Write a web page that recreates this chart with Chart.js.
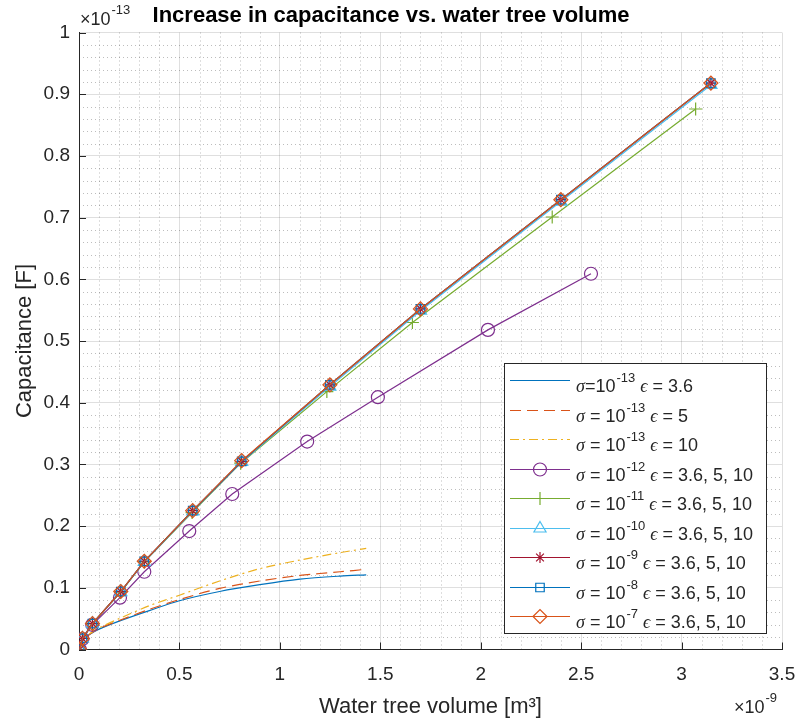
<!DOCTYPE html>
<html>
<head>
<meta charset="utf-8">
<script src="https://cdn.jsdelivr.net/npm/chart.js@4.4.0/dist/chart.umd.min.js"></script>
<style>
  html, body { margin: 0; padding: 0; background: #fff; }
  #wrap { width: 800px; height: 724px; }
</style>
</head>
<body>
<div id="wrap"><canvas id="capChart" width="800" height="724"></canvas></div>
<script>
// volume in units of 1e-9 m^3, capacitance in units of 1e-13 F

// sigma = 1e-13, three permittivities (no markers)
const volLow    = [0, 0.02, 0.05, 0.1, 0.2, 0.35, 0.5, 0.7, 0.9, 1.1, 1.3, 1.43];
const capS13e36 = [0, 0.015, 0.024, 0.033, 0.046, 0.063, 0.079, 0.094, 0.105, 0.114, 0.119, 0.121];
const capS13e5  = [0, 0.015, 0.024, 0.034, 0.047, 0.065, 0.081, 0.099, 0.111, 0.120, 0.126, 0.130];
const capS13e10 = [0, 0.016, 0.025, 0.035, 0.050, 0.071, 0.088, 0.111, 0.131, 0.145, 0.157, 0.164];

// sigma = 1e-12
const volS12 = [0.004, 0.017, 0.066, 0.204, 0.325, 0.549, 0.763, 1.136, 1.488, 2.036, 2.549];
const capS12 = [0, 0.017, 0.040, 0.084, 0.126, 0.192, 0.252, 0.337, 0.409, 0.518, 0.609];

// sigma = 1e-11
const volS11 = [0.004, 0.017, 0.067, 0.207, 0.325, 0.563, 0.805, 1.234, 1.66, 2.356, 3.07];
const capS11 = [0, 0.018, 0.042, 0.093, 0.142, 0.222, 0.302, 0.418, 0.530, 0.701, 0.876];

// sigma = 1e-10 ... 1e-7
const volHigh = [0.004, 0.017, 0.067, 0.208, 0.325, 0.566, 0.81, 1.249, 1.70, 2.399, 3.146];
const capS10 = [0, 0.018, 0.042, 0.093, 0.142, 0.224, 0.304, 0.426, 0.549, 0.726, 0.915];
const capS9  = [0, 0.018, 0.042, 0.094, 0.143, 0.225, 0.305, 0.429, 0.552, 0.729, 0.918];
const capS8  = [0, 0.018, 0.042, 0.094, 0.143, 0.225, 0.305, 0.429, 0.552, 0.729, 0.918];
const capS7  = [0, 0.018, 0.042, 0.094, 0.143, 0.225, 0.306, 0.429, 0.552, 0.729, 0.918];

const xTickLabels = ['0', '0.5', '1', '1.5', '2', '2.5', '3', '3.5'];
const yTickLabels = ['0', '0.1', '0.2', '0.3', '0.4', '0.5', '0.6', '0.7', '0.8', '0.9', '1'];

const sigmaExp = ['-13', '-13', '-13', '-12', '-11', '-10', '-9', '-8', '-7'];
const epsText  = ['3.6', '5', '10', '3.6, 5, 10', '3.6, 5, 10', '3.6, 5, 10', '3.6, 5, 10', '3.6, 5, 10', '3.6, 5, 10'];

const FONT = '"Liberation Sans", Arial, sans-serif';
const INK = '#262626';

function pts(xs, ys) {
  return xs.map((x, i) => ({ x: x, y: ys[i] }));
}

const series = [
  { data: pts(volLow, capS13e36), color: '#0072BD', dash: [], marker: false },
  { data: pts(volLow, capS13e5), color: '#D95319', dash: [11, 6], marker: false },
  { data: pts(volLow, capS13e10), color: '#EDB120', dash: [9, 4, 2, 4], marker: false },
  { data: pts(volS12, capS12), color: '#7E2F8E', dash: [], marker: 'circle', r: 6.5 },
  { data: pts(volS11, capS11), color: '#77AC30', dash: [], marker: 'cross', r: 6.5 },
  { data: pts(volHigh, capS10), color: '#4DBEEE', dash: [], marker: 'triangle', r: 7 },
  { data: pts(volHigh, capS9), color: '#A2142F', dash: [], marker: 'star', r: 5.5 },
  { data: pts(volHigh, capS8), color: '#0072BD', dash: [], marker: 'rect', r: 6 },
  { data: pts(volHigh, capS7), color: '#D95319', dash: [], marker: 'rectRot', r: 7 }
];

const datasets = series.map((s, i) => ({
  label: 'σ = 10^' + sigmaExp[i] + ' ϵ = ' + epsText[i],
  data: s.data,
  borderColor: s.color,
  backgroundColor: 'rgba(0,0,0,0)',
  borderWidth: 1.2,
  borderDash: s.dash,
  tension: s.marker ? 0 : 0.3,
  pointStyle: s.marker || 'circle',
  pointRadius: s.marker ? s.r : 0,
  pointBorderWidth: 1.2,
  pointBorderColor: s.color,
  pointBackgroundColor: 'rgba(0,0,0,0)',
  order: series.length - 1 - i
}));

// dotted minor grid, inward ticks, exponent labels
const axesDecor = {
  id: 'axesDecor',
  beforeDatasetsDraw(chart) {
    const { ctx, chartArea: a, scales: { x, y } } = chart;
    ctx.save();
    ctx.strokeStyle = 'rgba(38,38,38,0.3)';
    ctx.lineWidth = 1;
    ctx.setLineDash([1, 3]);
    for (let k = 1; k < 35; k++) {
      if (k % 5 === 0) continue;
      const px = Math.round(x.getPixelForValue(k / 10)) + 0.5;
      ctx.beginPath(); ctx.moveTo(px, a.top); ctx.lineTo(px, a.bottom); ctx.stroke();
    }
    for (let k = 1; k < 50; k++) {
      if (k % 5 === 0) continue;
      const py = Math.round(y.getPixelForValue(k / 50)) + 0.5;
      ctx.beginPath(); ctx.moveTo(a.left, py); ctx.lineTo(a.right, py); ctx.stroke();
    }
    ctx.setLineDash([]);
    ctx.strokeStyle = INK;
    xTickLabels.forEach((t, i) => {
      const px = Math.round(x.getPixelForValue(i * 0.5)) + 0.5;
      ctx.beginPath(); ctx.moveTo(px, a.bottom); ctx.lineTo(px, a.bottom - 7); ctx.stroke();
    });
    yTickLabels.forEach((t, i) => {
      const py = Math.round(y.getPixelForValue(i * 0.1)) + 0.5;
      ctx.beginPath(); ctx.moveTo(a.left, py); ctx.lineTo(a.left + 7, py); ctx.stroke();
    });
    ctx.restore();
  },
  afterDraw(chart) {
    const { ctx, chartArea: a } = chart;
    ctx.save();
    ctx.fillStyle = INK;
    ctx.textBaseline = 'alphabetic';
    ctx.textAlign = 'left';
    const expo = (x0, yBase, exp) => {
      ctx.font = '18px ' + FONT;
      ctx.fillText('×10', x0, yBase);
      const w = ctx.measureText('×10').width;
      ctx.font = '13px ' + FONT;
      ctx.fillText(exp, x0 + w + 1, yBase - 11);
    };
    expo(a.left + 1, 25, '-13');
    expo(734, 713, '-9');
    ctx.restore();
  }
};

// legend box with superscripts, drawn inside the axes
const texLegend = {
  id: 'texLegend',
  afterDraw(chart) {
    const { ctx } = chart;
    const box = { left: 504, top: 363, right: 766, bottom: 633 };
    ctx.save();
    ctx.fillStyle = '#fff';
    ctx.fillRect(box.left, box.top, box.right - box.left, box.bottom - box.top);
    ctx.strokeStyle = INK;
    ctx.lineWidth = 1;
    ctx.strokeRect(box.left + 0.5, box.top + 0.5, box.right - box.left, box.bottom - box.top);
    const rowH = 29.5;
    series.forEach((s, i) => {
      const ly = Math.round(380 + i * rowH) + 0.5;
      ctx.strokeStyle = s.color;
      ctx.lineWidth = 1.2;
      ctx.setLineDash(s.dash);
      ctx.beginPath(); ctx.moveTo(510, ly); ctx.lineTo(570, ly); ctx.stroke();
      ctx.setLineDash([]);
      if (s.marker) {
        ctx.fillStyle = 'rgba(0,0,0,0)';
        ctx.strokeStyle = s.color;
        ctx.lineWidth = 1.2;
        Chart.helpers.drawPoint(ctx, {
          pointStyle: s.marker, radius: s.r, borderWidth: 1.2, rotation: 0
        }, 540, ly);
      }
      // label text
      const base = ly + 11.5;
      let tx = 576;
      ctx.fillStyle = INK;
      ctx.textBaseline = 'alphabetic';
      ctx.font = 'italic 18px "Liberation Serif", serif';
      ctx.fillText('σ', tx, base); tx += ctx.measureText('σ').width;
      ctx.font = '18px ' + FONT;
      const eq = i === 0 ? '=10' : ' = 10';
      ctx.fillText(eq, tx, base); tx += ctx.measureText(eq).width;
      ctx.font = '13px ' + FONT;
      ctx.fillText(sigmaExp[i], tx + 1, base - 10); tx += ctx.measureText(sigmaExp[i]).width + 1;
      ctx.font = '18px ' + FONT;
      tx += ctx.measureText(' ').width;
      ctx.font = 'italic 18px "Liberation Serif", serif';
      ctx.fillText('ϵ', tx, base); tx += ctx.measureText('ϵ').width;
      ctx.font = '18px ' + FONT;
      ctx.fillText(' = ' + epsText[i], tx, base);
    });
    ctx.restore();
  }
};

new Chart(document.getElementById('capChart'), {
  type: 'line',
  data: { datasets: datasets },
  options: {
    responsive: false,
    animation: false,
    layout: { padding: { left: 0, right: 18, top: 0, bottom: 0 } },
    plugins: {
      legend: { display: false },
      tooltip: { enabled: false },
      title: {
        display: true,
        text: 'Increase in capacitance vs. water tree volume',
        color: '#000',
        font: { family: FONT, size: 22, weight: 'bold' },
        padding: { top: 3, bottom: 3.1 }
      }
    },
    scales: {
      x: {
        type: 'linear',
        min: 0, max: 3.5,
        afterBuildTicks: s => { s.ticks = xTickLabels.map((t, i) => ({ value: i * 0.5 })); },
        afterFit: s => { s.height = 74.5; s.paddingLeft = 0; s.paddingRight = 0; },
        ticks: {
          color: INK,
          font: { family: FONT, size: 19 },
          padding: 14,
          maxRotation: 0,
          callback: (v, i) => xTickLabels[i]
        },
        grid: { color: 'rgba(38,38,38,0.15)', lineWidth: 1, drawTicks: false },
        border: { color: INK, width: 1 },
        title: {
          display: true,
          text: 'Water tree volume [m³]',
          color: INK,
          font: { family: FONT, size: 22 },
          padding: { top: 0, bottom: 4 }
        }
      },
      y: {
        type: 'linear',
        min: 0, max: 1,
        afterBuildTicks: s => { s.ticks = yTickLabels.map((t, i) => ({ value: i / 10 })); },
        afterFit: s => { s.width = 79; s.paddingTop = 0; s.paddingBottom = 0; },
        ticks: {
          color: INK,
          font: { family: FONT, size: 19 },
          padding: 9,
          callback: (v, i) => yTickLabels[i]
        },
        grid: { color: 'rgba(38,38,38,0.15)', lineWidth: 1, drawTicks: false },
        border: { color: INK, width: 1 },
        title: {
          display: true,
          text: 'Capacitance [F]',
          color: INK,
          font: { family: FONT, size: 22 },
          padding: { top: 12, bottom: 0 }
        }
      }
    }
  },
  plugins: [axesDecor, texLegend]
});
</script>
</body>
</html>
